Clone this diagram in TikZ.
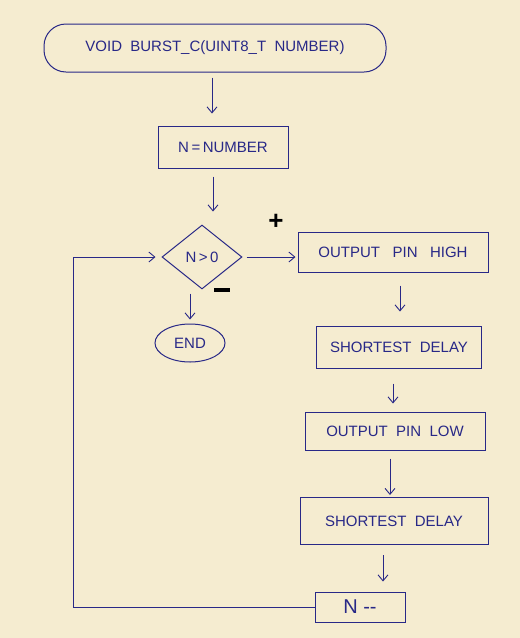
\documentclass[tikz,border=0pt]{standalone}
\usepackage{fontspec}
\setmainfont{Liberation Sans}
\usetikzlibrary{shapes.geometric,arrows.meta}
\definecolor{paper}{RGB}{245,236,208}
\definecolor{ink}{RGB}{40,40,135}
\tikzset{
  every node/.style={font=\fontsize{15}{17}\selectfont, text=ink},
  box/.style={draw=ink, line width=1pt, rectangle, inner sep=0pt},
  term/.style={draw=ink, line width=1pt, ellipse, inner sep=0pt},
  roundterm/.style={draw=ink, line width=1pt, rectangle, rounded corners=22pt, inner sep=0pt},
  dec/.style={draw=ink, line width=1pt, diamond, inner sep=0pt},
  flow/.style={draw=ink, line width=0.9pt, -{Straight Barb[length=6pt,width=10pt]}},
  sign/.style={text=black, font=\fontsize{26}{28}\selectfont\bfseries}
}
\begin{document}
\begin{tikzpicture}[x=1pt,y=-1pt]
\fill[paper] (0,0) rectangle (520,638);
\useasboundingbox (0,0) rectangle (520,638);
\node[roundterm, minimum width=342pt, minimum height=48pt] (start) at (215,48) {VOID\ \ BURST\_C(UINT8\_T\ \ NUMBER)};
\node[box, minimum width=130pt, minimum height=42pt] (init) at (223,147) {N\,=\,NUMBER};
\node[dec, minimum width=80pt, minimum height=64pt] (cond) at (202,257) {N\,>\,0};
\node[term, minimum width=70pt, minimum height=38pt] (end) at (190,343) {END};
\node[box, minimum width=190pt, minimum height=40pt] (high) at (393,252) {OUTPUT\ \ \ PIN\ \ \ HIGH};
\node[box, minimum width=165pt, minimum height=42pt] (d1) at (399,347) {SHORTEST\ \ DELAY};
\node[box, minimum width=180pt, minimum height=38pt] (low) at (395,431) {OUTPUT\ \ PIN\ \ LOW};
\node[box, minimum width=188pt, minimum height=47pt] (d2) at (394,521) {SHORTEST\ \ DELAY};
\node[box, minimum width=90pt, minimum height=30pt] (dec) at (360,607) {\fontsize{20}{22}\selectfont N\ -{}-};
\node[sign] (plus) at (276,222) {+};
\node[text=black, fill=black, minimum width=16pt, minimum height=4pt, inner sep=0pt] (minus) at (222,290) {};
\coordinate (loopc) at (73,607);
\draw[flow] ([xshift=-3pt,yshift=-5pt]start.south) -- ([xshift=-11pt,yshift=12pt]init.north);
\draw[flow] ([xshift=-10pt,yshift=-8pt]init.south) -- ([xshift=11pt,yshift=13pt]cond.north);
\draw[flow] ([xshift=4pt]cond.east) -- ([xshift=-2pt]high.west |- cond.east);
\draw[flow] ([yshift=-4pt]cond.south -| end.north) -- ([yshift=4pt]end.north);
\draw[flow] ([xshift=7pt,yshift=-13pt]high.south) -- ([xshift=1pt,yshift=14pt]d1.north);
\draw[flow] ([xshift=-6pt,yshift=-15pt]d1.south) -- ([xshift=-2pt,yshift=8pt]low.north);
\draw[flow] ([xshift=-5pt,yshift=-8pt]low.south) -- ([xshift=-4pt,yshift=2pt]d2.north);
\draw[flow] ([xshift=-11pt,yshift=-10pt]d2.south) -- ([xshift=23pt,yshift=10pt]dec.north);
\draw[flow] (dec.west) -- (loopc) -- (loopc |- cond.west) -- ([xshift=-6pt]cond.west);
\end{tikzpicture}
\end{document}
